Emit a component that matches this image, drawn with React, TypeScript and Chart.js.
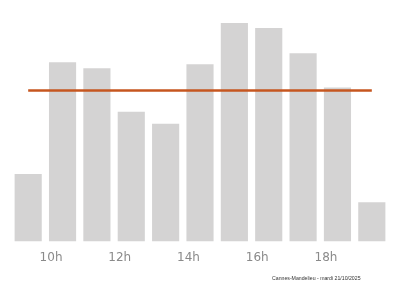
import React, { useEffect, useRef } from "react";
import { Chart, registerables } from "chart.js";

Chart.register(...registerables);

const hours = ["9h", "10h", "11h", "12h", "13h", "14h", "15h", "16h", "17h", "18h", "19h"];
const barValues = [30.9, 82.0, 79.3, 59.4, 53.9, 81.1, 100, 97.7, 86.2, 70.5, 18.0];
const averageValue = 69.1;
const footerText = "Cannes-Mandelieu - mardi 21/10/2025";

export default function App() {
  const canvasRef = useRef<HTMLCanvasElement | null>(null);

  useEffect(() => {
    if (!canvasRef.current) return;
    const chart = new Chart(canvasRef.current, {
      data: {
        labels: hours,
        datasets: [
          {
            type: "line",
            data: hours.map(() => averageValue),
            borderColor: "#c6561f",
            borderWidth: 2.5,
            pointRadius: 0,
            order: 0,
          },
          {
            type: "bar",
            data: barValues,
            backgroundColor: "#d4d3d3",
            barPercentage: 0.79,
            categoryPercentage: 1,
            order: 1,
          },
        ],
      },
      options: {
        responsive: false,
        animation: false,
        layout: { padding: { left: 11, right: 11, top: 23, bottom: 12 } },
        plugins: { legend: { display: false }, tooltip: { enabled: false } },
        scales: {
          x: {
            grid: { display: false, drawTicks: false },
            border: { display: false },
            ticks: {
              color: "#8a8a8a",
              font: { family: "DejaVu Sans", size: 12 },
              padding: 9,
              labelOffset: -11.5,
              autoSkip: false,
              maxRotation: 0,
              callback: (_v: any, i: number) => (i % 2 === 1 ? hours[i] : ""),
            },
          },
          y: {
            display: false,
            min: 0,
            max: 100,
          },
        },
      },
    });
    return () => chart.destroy();
  }, []);

  return (
    <div style={{ position: "fixed", left: 0, top: 0, width: 400, height: 286, background: "#fff" }}>
      <canvas ref={canvasRef} width={400} height={286} />
      <div
        style={{
          position: "absolute",
          left: 272,
          top: 275,
          fontFamily: "Liberation Sans",
          fontSize: 5.2,
          color: "#333",
          whiteSpace: "nowrap",
          lineHeight: "6px",
        }}
      >
        {footerText}
      </div>
    </div>
  );
}
